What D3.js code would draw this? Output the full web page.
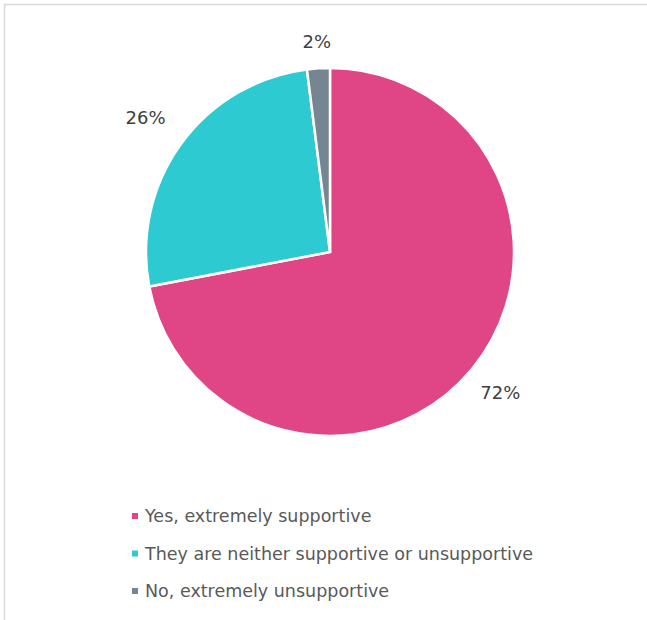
<!DOCTYPE html>
<html><head><meta charset="utf-8">
<script src="https://cdn.jsdelivr.net/npm/d3@7"></script>
<style>body{margin:0;background:#fff}svg{display:block}</style>
</head><body>
<svg id="chart" width="647" height="620"></svg>
<script>
const categories = ["Yes, extremely supportive", "They are neither supportive or unsupportive", "No, extremely unsupportive"];
const values = [72, 26, 2];
const labels = ["72%", "26%", "2%"];
const colors = ["#E04685", "#2ECAD2", "#768592"];

const svg = d3.select("#chart");
svg.append("rect").attr("x", 4.5).attr("y", 4.5).attr("width", 660).attr("height", 640)
  .attr("fill", "#fff").attr("stroke", "#d9d9d9").attr("stroke-width", 1.5);

const cx = 330, cy = 252, R = 184;
const g = svg.append("g").attr("transform", `translate(${cx},${cy})`);
const pie = d3.pie().sort(null).value(d => d);
const arcs = pie(values);
const arc = d3.arc().innerRadius(0).outerRadius(R);
g.selectAll("path").data(arcs).join("path")
  .attr("d", arc).attr("fill", (d, i) => colors[i])
  .attr("stroke", "#fff").attr("stroke-width", 2.5).attr("stroke-linejoin", "miter");

const labelR = [221, 228, 211];
const font = "'DejaVu Sans', sans-serif";
g.selectAll("text.lbl").data(arcs).join("text").attr("class", "lbl")
  .attr("transform", (d, i) => {
    const a = (d.startAngle + d.endAngle) / 2;
    return `translate(${Math.sin(a) * labelR[i]},${-Math.cos(a) * labelR[i]})`;
  })
  .attr("text-anchor", "middle").attr("dy", "0.35em")
  .attr("font-family", font).attr("font-size", 18)
  .attr("fill", "#404040").text((d, i) => labels[i]);

const y = d3.scalePoint().domain(categories).range([516, 591]);
const leg = svg.append("g").selectAll("g").data(categories).join("g")
  .attr("transform", d => `translate(135,${y(d)})`);
leg.append("rect").attr("x", -3).attr("y", -3).attr("width", 6).attr("height", 6)
  .attr("fill", (d, i) => colors[i]);
leg.append("text").attr("x", 10).attr("dy", "0.35em")
  .attr("font-family", font).attr("font-size", 17.5)
  .attr("fill", "#595959").text(d => d);
</script>
</body></html>
